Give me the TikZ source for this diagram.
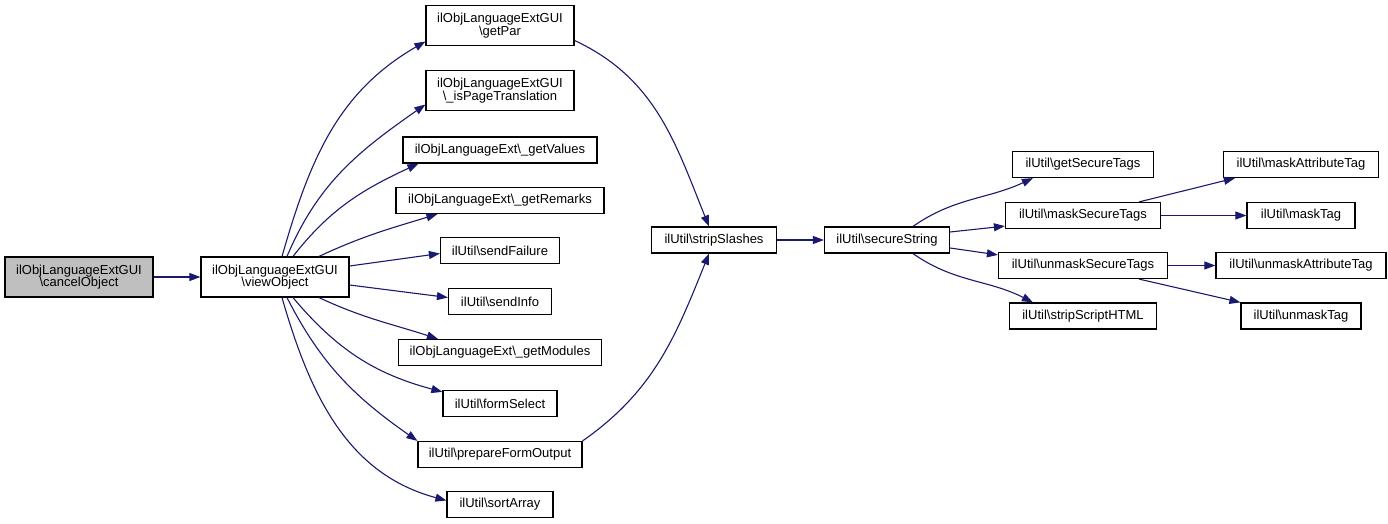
\documentclass[tikz,border=0pt]{standalone}
\usepackage{fontspec}
\setmainfont{Liberation Sans}
\usetikzlibrary{arrows.meta}
\definecolor{edgeblue}{HTML}{191970}
\definecolor{selgray}{HTML}{BFBFBF}
\newcommand{\bs}{\textbackslash}
\begin{document}
\begin{tikzpicture}[x = 1pt, y = 1pt,
	box/.style = {draw = black, line width = 1.2pt, fill = white, inner sep = 0pt, align = center, font = \fontsize{13}{12.5}\selectfont, minimum height = 26pt},
	tall/.style = {minimum height = 40pt, minimum width = 148pt},
	sel/.style = {fill = selgray},
	edge/.style = {draw = edgeblue, line width = 1.1pt, -{Triangle[length = 11pt, width = 8pt]}}]
	%	frame
	\useasboundingbox (0, 0) rectangle (1388, 523);
	
	%	callers
	\node[box, tall, sel] (cancel) at (79, 246) {ilObjLanguageExtGUI\\\bs cancelObject};
	\node[box, tall] (view) at (275, 246) {ilObjLanguageExtGUI\\\bs viewObject};
	
	%	called by viewObject
	\node[box, tall] (getpar) at (500, 497.5) {ilObjLanguageExtGUI\\\bs getPar};
	\node[box, tall] (ispage) at (500, 432.5) {ilObjLanguageExtGUI\\\bs\_isPageTranslation};
	\node[box, minimum width = 194pt] (getvalues) at (500, 373) {ilObjLanguageExt\bs\_getValues};
	\node[box, minimum width = 208pt] (getremarks) at (500, 322.5) {ilObjLanguageExt\bs\_getRemarks};
	\node[box, minimum width = 119pt] (sendfailure) at (500, 272.5) {ilUtil\bs sendFailure};
	\node[box, minimum width = 103pt] (sendinfo) at (500, 221.5) {ilUtil\bs sendInfo};
	\node[box, minimum width = 203pt] (getmodules) at (500, 170.5) {ilObjLanguageExt\bs\_getModules};
	\node[box, minimum width = 114pt] (formselect) at (500, 119.5) {ilUtil\bs formSelect};
	\node[box, minimum width = 164pt] (prepare) at (500, 68.5) {ilUtil\bs prepareFormOutput};
	\node[box, minimum width = 106pt] (sortarray) at (500, 18.5) {ilUtil\bs sortArray};
	
	%	strings
	\node[box, minimum width = 125pt] (stripslashes) at (714, 283) {ilUtil\bs stripSlashes};
	\node[box, minimum width = 125pt] (securestring) at (887, 283) {ilUtil\bs secureString};
	\node[box, minimum width = 141pt] (getsecure) at (1083, 358.5) {ilUtil\bs getSecureTags};
	\node[box, minimum width = 155pt] (masksecure) at (1083, 307.5) {ilUtil\bs maskSecureTags};
	\node[box, minimum width = 169pt] (unmasksecure) at (1083, 257.5) {ilUtil\bs unmaskSecureTags};
	\node[box, minimum width = 147pt] (stripscript) at (1083, 207) {ilUtil\bs stripScriptHTML};
	\node[box, minimum width = 155pt] (maskattr) at (1301, 358.5) {ilUtil\bs maskAttributeTag};
	\node[box, minimum width = 108pt] (masktag) at (1301, 307.5) {ilUtil\bs maskTag};
	\node[box, minimum width = 170pt] (unmaskattr) at (1301, 257.5) {ilUtil\bs unmaskAttributeTag};
	\node[box, minimum width = 120pt] (unmasktag) at (1301, 207) {ilUtil\bs unmaskTag};
	
	%	edges
	\draw[edge] (cancel) -- (view);
	\draw[edge] ([xshift = 7]view.north) to[out = 74, in = -150] ([yshift = -16]getpar.west);
	\draw[edge] ([xshift = 12]view.north) to[out = 67, in = -145] ([yshift = -14]ispage.west);
	\draw[edge] ([xshift = 18]view.north) to[out = 52, in = -155] ([xshift = 16]getvalues.south west);
	\draw[edge] ([xshift = 44]view.north) to[out = 25, in = -163] ([xshift = 42]getremarks.south west);
	\draw[edge] ([yshift = 11]view.east) -- ([yshift = -3]sendfailure.west);
	\draw[edge] ([yshift = -8]view.east) -- ([yshift = 4]sendinfo.west);
	\draw[edge] ([xshift = 44]view.south) to[out = -25, in = 162] ([xshift = 40]getmodules.north west);
	\draw[edge] ([xshift = 18]view.south) to[out = -50, in = 165] ([yshift = -2]formselect.north west);
	\draw[edge] ([xshift = 12]view.south) to[out = -63, in = 145] (prepare.north west);
	\draw[edge] ([xshift = 7]view.south) to[out = -74, in = 165] ([yshift = 4]sortarray.west);
	\draw[edge] ([yshift = -15]getpar.east) to[out = -25, in = 112] ([xshift = -5]stripslashes.north);
	\draw[edge] (prepare.north east) to[out = 35, in = -112] ([xshift = -5]stripslashes.south);
	\draw[edge] (stripslashes) -- (securestring);
	\draw[edge] ([xshift = 26]securestring.north) to[out = 35, in = -155] ([xshift = 21]getsecure.south west);
	\draw[edge] ([yshift = 8]securestring.east) -- ([yshift = 3]masksecure.south west);
	\draw[edge] ([yshift = -8]securestring.east) -- ([yshift = -3]unmasksecure.north west);
	\draw[edge] ([xshift = 26]securestring.south) to[out = -35, in = 153] ([xshift = 24]stripscript.north west);
	\draw[edge] ([xshift = -22]masksecure.north east) -- ([xshift = 12]maskattr.south west);
	\draw[edge] (masksecure) -- (masktag);
	\draw[edge] (unmasksecure) -- (unmaskattr);
	\draw[edge] ([xshift = -29]unmasksecure.south east) -- (unmasktag.north west);
\end{tikzpicture}
\end{document}
